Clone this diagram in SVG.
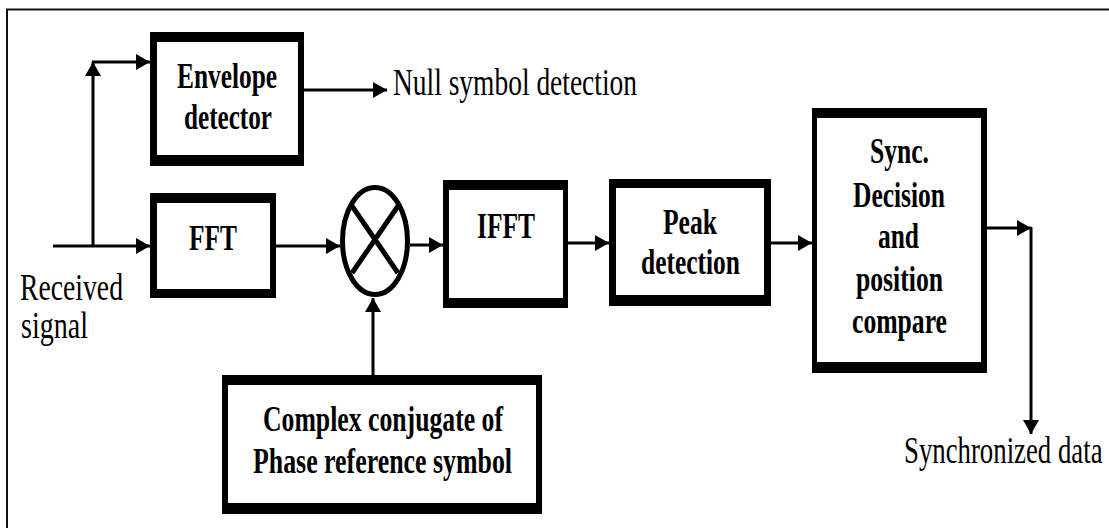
<svg xmlns="http://www.w3.org/2000/svg" width="1109" height="528" viewBox="0 0 1109 528">
  <style>
    .box { fill: #000; fill-rule: evenodd; }
    .wire { fill: none; stroke: #000; stroke-width: 3; }
    .lbl { font-family: "Liberation Serif", "Times New Roman", serif; font-size: 38px; fill: #000; }
    .blk { font-family: "Liberation Serif", "Times New Roman", serif; font-size: 36px; font-weight: bold; fill: #000; }
  </style>
  <defs>
    <marker id="arrow" markerUnits="userSpaceOnUse" markerWidth="14" markerHeight="16" refX="14" refY="8" orient="auto">
      <path d="M0,0 L14,8 L0,16 Z" fill="#000"/>
    </marker>
  </defs>

  <rect width="1109" height="528" fill="#fff"/>
  <!-- page frame (runs past the right and bottom edges) -->
  <path d="M7,528V9.5H1109" fill="none" stroke="#111" stroke-width="2"/>

  <!-- connectors -->
  <g id="connectors">
    <line class="wire" x1="53" y1="246" x2="150" y2="246" marker-end="url(#arrow)"/>
    <line class="wire" x1="93" y1="246" x2="93" y2="62" marker-end="url(#arrow)"/>
    <line class="wire" x1="92" y1="62" x2="150" y2="62" marker-end="url(#arrow)"/>
    <line class="wire" x1="304" y1="90" x2="387" y2="90" marker-end="url(#arrow)"/>
    <line class="wire" x1="276" y1="246" x2="340" y2="246" marker-end="url(#arrow)"/>
    <line class="wire" x1="373" y1="375" x2="373" y2="298" marker-end="url(#arrow)"/>
    <line class="wire" x1="410" y1="245" x2="443" y2="245" marker-end="url(#arrow)"/>
    <line class="wire" x1="568" y1="243" x2="609" y2="243" marker-end="url(#arrow)"/>
    <line class="wire" x1="771" y1="243" x2="812" y2="243" marker-end="url(#arrow)"/>
    <line class="wire" x1="987" y1="228" x2="1031" y2="228" marker-end="url(#arrow)"/>
    <line class="wire" x1="1031" y1="227" x2="1031" y2="434" marker-end="url(#arrow)"/>
  </g>

  <!-- free labels -->
  <g id="label-received">
    <text class="lbl" x="20" y="300" textLength="103" lengthAdjust="spacingAndGlyphs">Received</text>
    <text class="lbl" x="21" y="338" textLength="67" lengthAdjust="spacingAndGlyphs">signal</text>
  </g>
  <g id="label-null">
    <text class="lbl" x="393" y="95" textLength="244" lengthAdjust="spacingAndGlyphs">Null symbol detection</text>
  </g>
  <g id="label-sync-data">
    <text class="lbl" transform="translate(904,463) scale(0.705,1)">Synchronized data</text>
  </g>

  <g id="envelope-detector">
    <path class="box" d="M150,32H304V166H150Z M157,42H298V155H157Z"/>
    <text class="blk" x="177" y="88" textLength="100" lengthAdjust="spacingAndGlyphs">Envelope</text>
    <text class="blk" x="184" y="129" textLength="88" lengthAdjust="spacingAndGlyphs">detector</text>
  </g>

  <g id="fft">
    <path class="box" d="M150,193H276V298H150Z M157,203H270V289H157Z"/>
    <text class="blk" x="189" y="250" textLength="48" lengthAdjust="spacingAndGlyphs">FFT</text>
  </g>

  <g id="multiplier">
    <ellipse cx="375" cy="241" rx="32.5" ry="53.5" fill="#fff" stroke="#000" stroke-width="5"/>
    <line x1="352" y1="206" x2="398" y2="273" stroke="#000" stroke-width="5"/>
    <line x1="398" y1="206" x2="352" y2="273" stroke="#000" stroke-width="5"/>
  </g>

  <g id="ifft">
    <path class="box" d="M443,180H568V308H443Z M449,190H563V298H449Z"/>
    <text class="blk" x="477" y="238" textLength="58" lengthAdjust="spacingAndGlyphs">IFFT</text>
  </g>

  <g id="peak-detection">
    <path class="box" d="M609,179H771V306H609Z M616,188H764V295H616Z"/>
    <text class="blk" x="663" y="234" textLength="54" lengthAdjust="spacingAndGlyphs">Peak</text>
    <text class="blk" x="641" y="274" textLength="99" lengthAdjust="spacingAndGlyphs">detection</text>
  </g>

  <g id="sync-decision">
    <path class="box" d="M812,108H987V373H812Z M817,118H981V362H817Z"/>
    <text class="blk" x="870" y="163" textLength="59" lengthAdjust="spacingAndGlyphs">Sync.</text>
    <text class="blk" x="853" y="207" textLength="92" lengthAdjust="spacingAndGlyphs">Decision</text>
    <text class="blk" x="878" y="248" textLength="41" lengthAdjust="spacingAndGlyphs">and</text>
    <text class="blk" x="856" y="291" textLength="87" lengthAdjust="spacingAndGlyphs">position</text>
    <text class="blk" x="852" y="333" textLength="95" lengthAdjust="spacingAndGlyphs">compare</text>
  </g>

  <g id="phase-reference">
    <path class="box" d="M222,375H542V514H222Z M228,385H536V503H228Z"/>
    <text class="blk" x="263" y="431" textLength="240" lengthAdjust="spacingAndGlyphs">Complex conjugate of</text>
    <text class="blk" x="253" y="473" textLength="259" lengthAdjust="spacingAndGlyphs">Phase reference symbol</text>
  </g>
</svg>
